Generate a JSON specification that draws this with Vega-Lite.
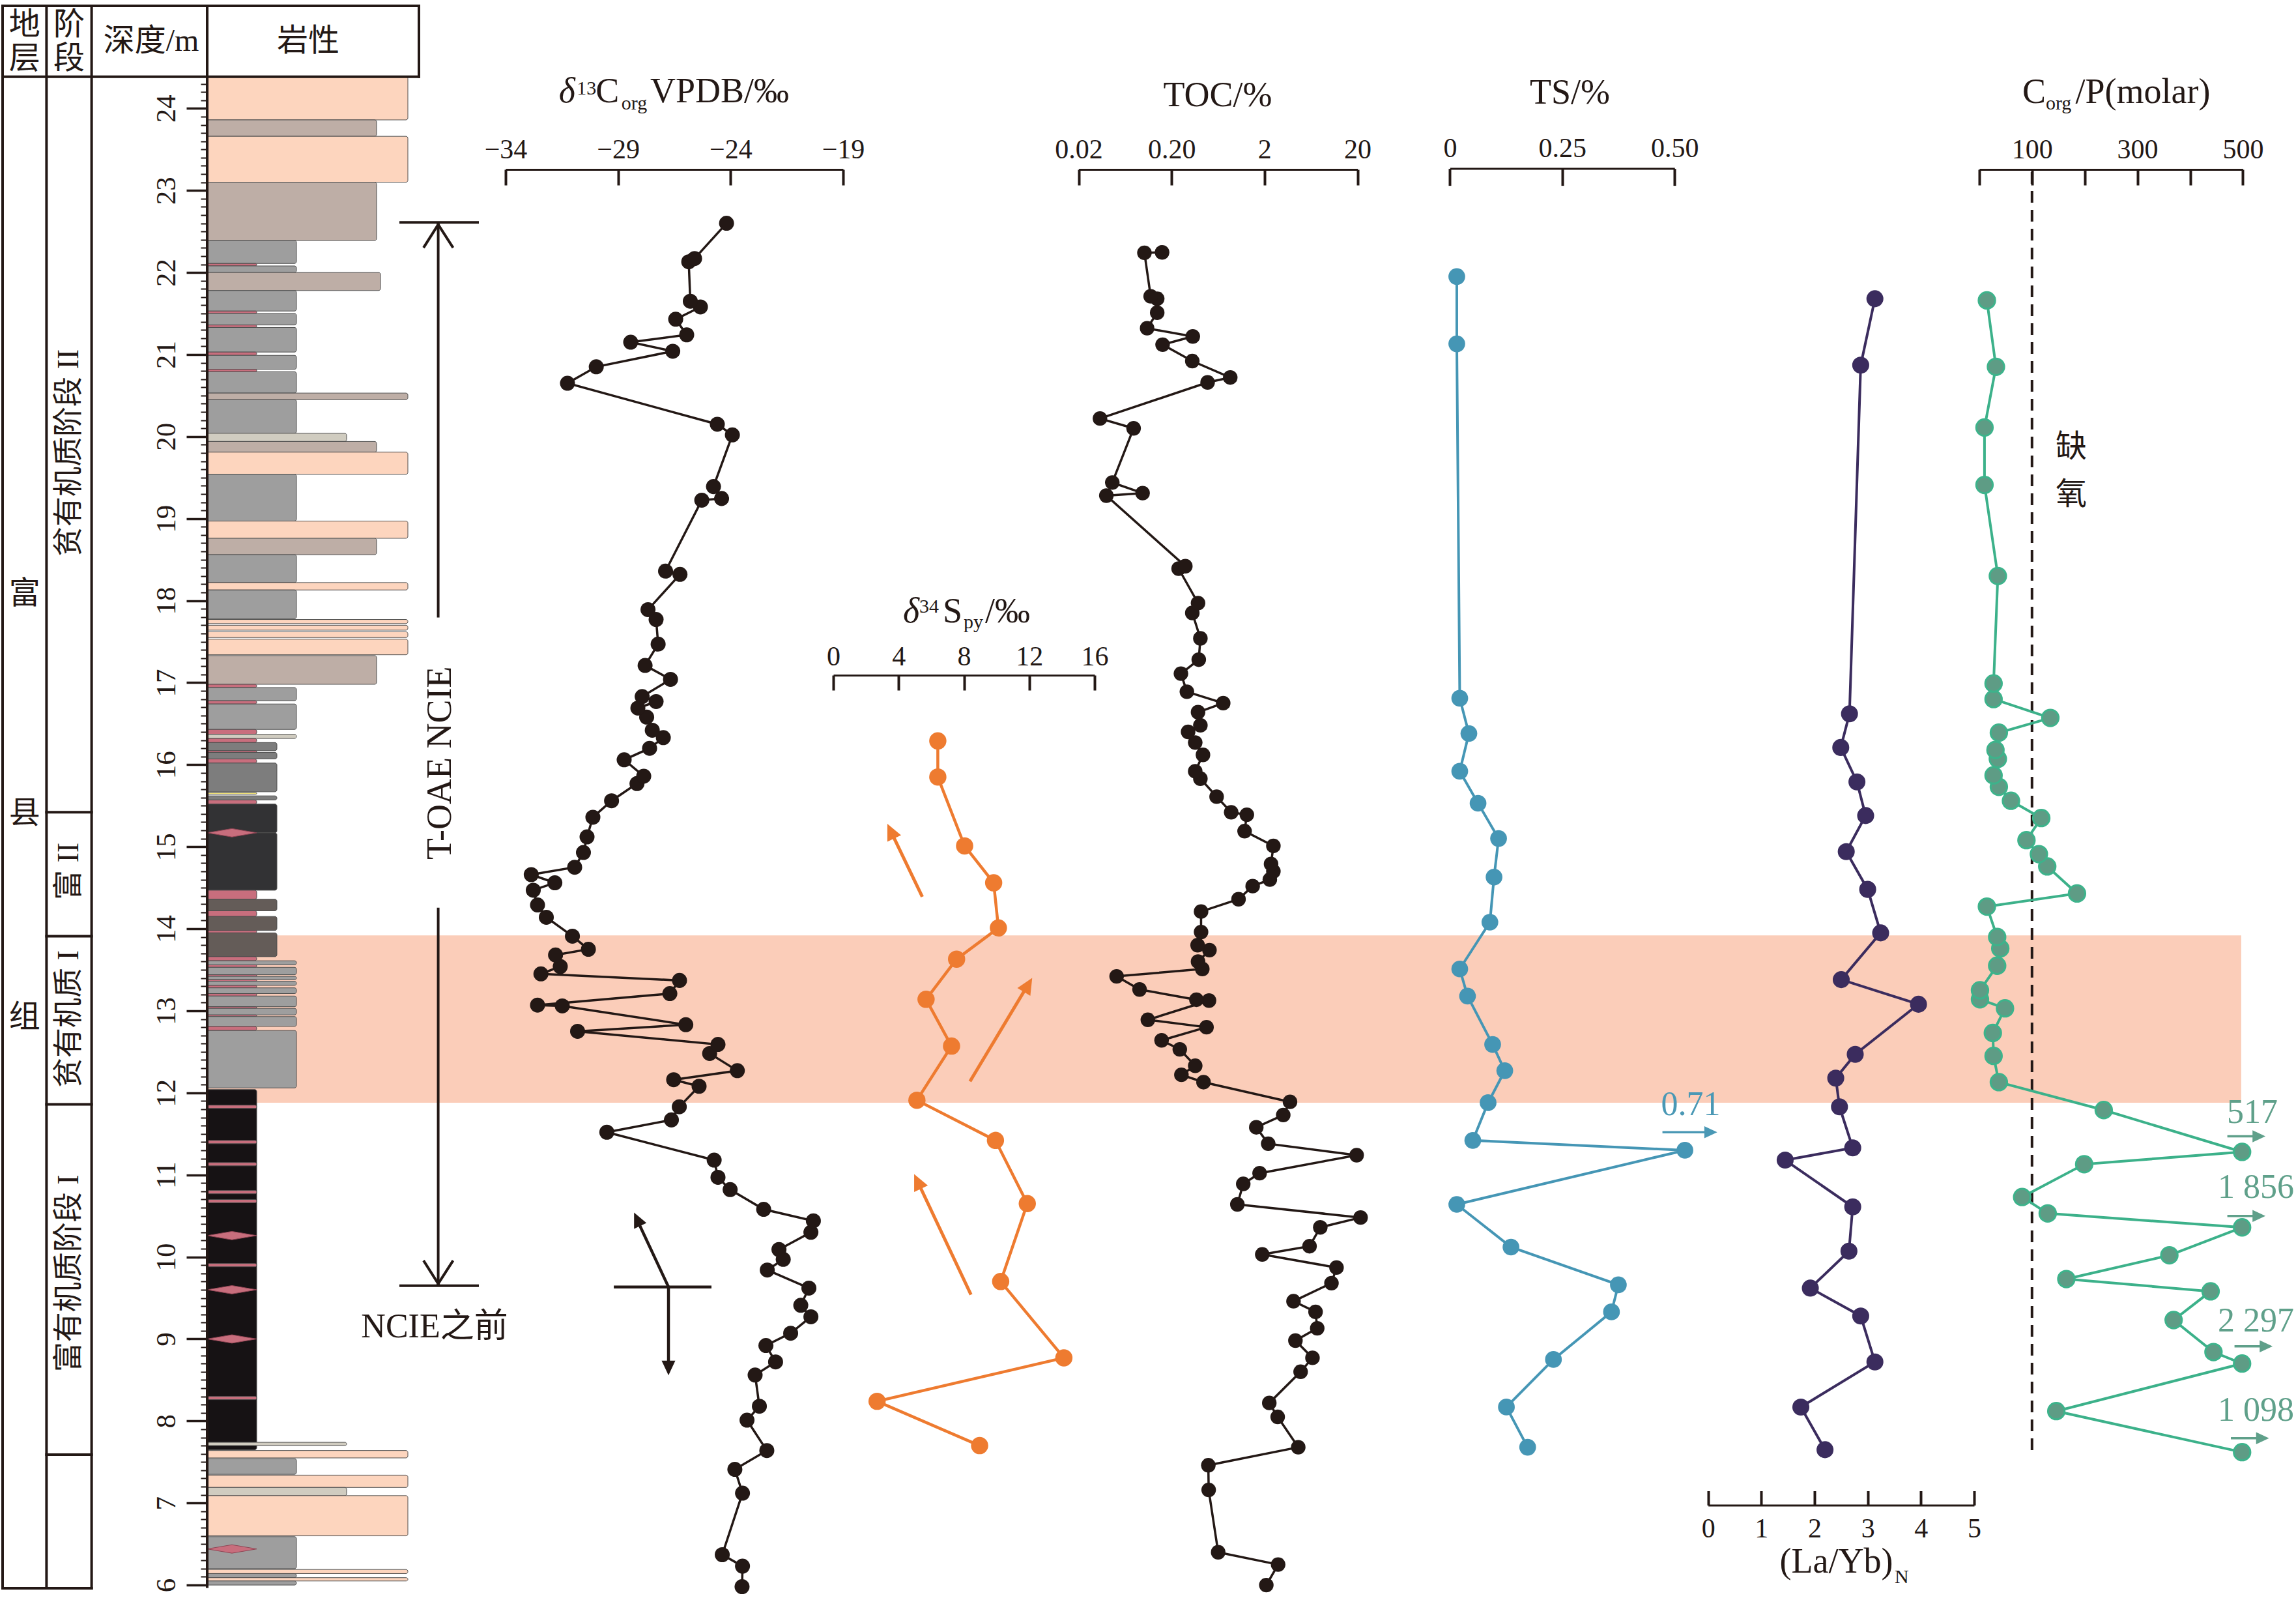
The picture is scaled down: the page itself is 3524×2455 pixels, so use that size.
{
"$schema": "https://vega.github.io/schema/vega-lite/v6.json",
"width": 3524,
"height": 2455,
"autosize": {"type": "none"},
"padding": 0,
"background": "#ffffff",
"config": {
  "view": {"stroke": null},
  "axis": {"grid": false, "labelFont": "Liberation Serif", "labelFontSize": 42, "labelColor": "#231815", "tickColor": "#231815", "domainColor": "#231815", "domainWidth": 3, "tickWidth": 4, "labelFlush": false, "labelOverlap": false, "labelBound": false}
},
"datasets": {
  "c13": [
    {"depth":22.6,"v":-24.18},{"depth":22.17,"v":-25.6},{"depth":22.13,"v":-25.86},{"depth":21.65,"v":-25.79},{"depth":21.58,"v":-25.34},{"depth":21.43,"v":-26.44},{"depth":21.24,"v":-25.95},{"depth":21.15,"v":-28.44},{"depth":21.04,"v":-26.57},{"depth":20.85,"v":-29.97},{"depth":20.65,"v":-31.25},{"depth":20.15,"v":-24.59},{"depth":20.02,"v":-23.92},{"depth":19.39,"v":-24.76},{"depth":19.245,"v":-24.4},{"depth":19.225,"v":-25.28},{"depth":18.36,"v":-26.89},{"depth":18.32,"v":-26.25},{"depth":17.89,"v":-27.67},{"depth":17.77,"v":-27.31},{"depth":17.47,"v":-27.22},{"depth":17.21,"v":-27.8},{"depth":17.04,"v":-26.67},{"depth":16.83,"v":-27.93},{"depth":16.77,"v":-27.31},{"depth":16.69,"v":-28.12},{"depth":16.58,"v":-27.73},{"depth":16.42,"v":-27.48},{"depth":16.33,"v":-26.99},{"depth":16.2,"v":-27.6},{"depth":16.06,"v":-28.73},{"depth":15.86,"v":-27.86},{"depth":15.77,"v":-28.16},{"depth":15.56,"v":-29.29},{"depth":15.36,"v":-30.12},{"depth":15.12,"v":-30.38},{"depth":14.93,"v":-30.54},{"depth":14.75,"v":-30.93},{"depth":14.66,"v":-32.86},{"depth":14.56,"v":-31.81},{"depth":14.47,"v":-32.77},{"depth":14.29,"v":-32.58},{"depth":14.14,"v":-32.19},{"depth":13.91,"v":-31.03},{"depth":13.75,"v":-30.32},{"depth":13.68,"v":-31.78},{"depth":13.54,"v":-31.57},{"depth":13.45,"v":-32.43},{"depth":13.37,"v":-26.27},{"depth":13.21,"v":-26.7},{"depth":13.07,"v":-32.58},{"depth":13.06,"v":-31.48},{"depth":12.83,"v":-25.99},{"depth":12.75,"v":-30.8},{"depth":12.59,"v":-24.56},{"depth":12.48,"v":-24.93},{"depth":12.27,"v":-23.7},{"depth":12.16,"v":-26.53},{"depth":12.08,"v":-25.4},{"depth":11.83,"v":-26.28},{"depth":11.67,"v":-26.63},{"depth":11.52,"v":-29.5},{"depth":11.18,"v":-24.73},{"depth":10.97,"v":-24.56},{"depth":10.82,"v":-24.02},{"depth":10.58,"v":-22.53},{"depth":10.44,"v":-20.32},{"depth":10.3,"v":-20.43},{"depth":10.09,"v":-21.85},{"depth":9.97,"v":-21.66},{"depth":9.84,"v":-22.37},{"depth":9.62,"v":-20.52},{"depth":9.41,"v":-20.88},{"depth":9.27,"v":-20.43},{"depth":9.07,"v":-21.33},{"depth":8.92,"v":-22.43},{"depth":8.72,"v":-22.0},{"depth":8.56,"v":-22.91},{"depth":8.18,"v":-22.72},{"depth":8.01,"v":-23.27},{"depth":7.64,"v":-22.39},{"depth":7.41,"v":-23.81},{"depth":7.12,"v":-23.47},{"depth":6.37,"v":-24.37},{"depth":6.23,"v":-23.47},{"depth":5.98,"v":-23.49}
  ],
  "s34": [
    {"depth":16.29,"v":6.4},{"depth":15.85,"v":6.4},{"depth":15.01,"v":8.04},{"depth":14.56,"v":9.82},{"depth":14.01,"v":10.11},{"depth":13.63,"v":7.55},{"depth":13.14,"v":5.68},{"depth":12.57,"v":7.24},{"depth":11.91,"v":5.12},{"depth":11.42,"v":9.93},{"depth":10.65,"v":11.88},{"depth":9.7,"v":10.25},{"depth":8.77,"v":14.12},{"depth":8.24,"v":2.68},{"depth":7.7,"v":8.96}
  ],
  "toc": [
    {"depth":22.245,"v":0.158},{"depth":22.24,"v":0.102},{"depth":21.71,"v":0.119},{"depth":21.68,"v":0.14},{"depth":21.51,"v":0.14},{"depth":21.32,"v":0.109},{"depth":21.22,"v":0.338},{"depth":21.12,"v":0.16},{"depth":20.92,"v":0.334},{"depth":20.72,"v":0.855},{"depth":20.66,"v":0.488},{"depth":20.22,"v":0.0339},{"depth":20.1,"v":0.078},{"depth":19.44,"v":0.046},{"depth":19.31,"v":0.0975},{"depth":19.28,"v":0.0397},{"depth":18.42,"v":0.281},{"depth":18.39,"v":0.238},{"depth":17.97,"v":0.385},{"depth":17.85,"v":0.334},{"depth":17.54,"v":0.408},{"depth":17.28,"v":0.392},{"depth":17.11,"v":0.252},{"depth":16.89,"v":0.292},{"depth":16.75,"v":0.718},{"depth":16.64,"v":0.385},{"depth":16.48,"v":0.408},{"depth":16.4,"v":0.301},{"depth":16.27,"v":0.359},{"depth":16.12,"v":0.435},{"depth":15.92,"v":0.359},{"depth":15.83,"v":0.408},{"depth":15.61,"v":0.61},{"depth":15.42,"v":0.875},{"depth":15.39,"v":1.29},{"depth":15.19,"v":1.22},{"depth":15.01,"v":2.49},{"depth":14.79,"v":2.35},{"depth":14.7,"v":2.49},{"depth":14.6,"v":2.28},{"depth":14.52,"v":1.49},{"depth":14.36,"v":1.05},{"depth":14.21,"v":0.415},{"depth":13.96,"v":0.415},{"depth":13.8,"v":0.381},{"depth":13.74,"v":0.511},{"depth":13.6,"v":0.385},{"depth":13.51,"v":0.428},{"depth":13.42,"v":0.0512},{"depth":13.26,"v":0.0904},{"depth":13.135,"v":0.37},{"depth":13.125,"v":0.505},{"depth":12.89,"v":0.111},{"depth":12.8,"v":0.475},{"depth":12.64,"v":0.156},{"depth":12.53,"v":0.245},{"depth":12.33,"v":0.359},{"depth":12.22,"v":0.255},{"depth":12.13,"v":0.441},{"depth":11.89,"v":3.76},{"depth":11.73,"v":3.18},{"depth":11.58,"v":1.63},{"depth":11.38,"v":2.19},{"depth":11.24,"v":19.6},{"depth":11.02,"v":1.77},{"depth":10.89,"v":1.18},{"depth":10.64,"v":1.02},{"depth":10.48,"v":21.6},{"depth":10.36,"v":7.96},{"depth":10.13,"v":6.1},{"depth":10.03,"v":1.89},{"depth":9.87,"v":11.9},{"depth":9.68,"v":10.5},{"depth":9.46,"v":4.1},{"depth":9.33,"v":7.08},{"depth":9.13,"v":7.38},{"depth":8.98,"v":4.3},{"depth":8.77,"v":6.56},{"depth":8.6,"v":4.89},{"depth":8.22,"v":2.25},{"depth":8.05,"v":2.77},{"depth":7.68,"v":4.61},{"depth":7.46,"v":0.497},{"depth":7.16,"v":0.501},{"depth":6.4,"v":0.634},{"depth":6.25,"v":2.8},{"depth":6.0,"v":2.09}
  ],
  "ts": [
    {"depth":21.95,"v":0.0153},{"depth":21.13,"v":0.0153},{"depth":16.81,"v":0.0219},{"depth":16.38,"v":0.0422},{"depth":15.92,"v":0.0219},{"depth":15.53,"v":0.0626},{"depth":15.1,"v":0.1083},{"depth":14.63,"v":0.0982},{"depth":14.08,"v":0.089},{"depth":13.51,"v":0.0219},{"depth":13.18,"v":0.0392},{"depth":12.59,"v":0.0951},{"depth":12.27,"v":0.1221},{"depth":11.88,"v":0.085},{"depth":11.42,"v":0.0509},{"depth":11.3,"v":0.523},{"depth":10.64,"v":0.0153},{"depth":10.12,"v":0.1359},{"depth":9.66,"v":0.3749},{"depth":9.33,"v":0.3596},{"depth":8.75,"v":0.2304},{"depth":8.17,"v":0.1257},{"depth":7.68,"v":0.173}
  ],
  "layb": [
    {"depth":21.68,"v":3.135},{"depth":20.87,"v":2.868},{"depth":16.62,"v":2.657},{"depth":16.21,"v":2.493},{"depth":15.79,"v":2.797},{"depth":15.38,"v":2.961},{"depth":14.94,"v":2.596},{"depth":14.48,"v":2.999},{"depth":13.95,"v":3.243},{"depth":13.38,"v":2.502},{"depth":13.08,"v":3.954},{"depth":12.47,"v":2.765},{"depth":12.18,"v":2.399},{"depth":11.83,"v":2.469},{"depth":11.33,"v":2.718},{"depth":11.18,"v":1.448},{"depth":10.61,"v":2.718},{"depth":10.07,"v":2.647},{"depth":9.62,"v":1.921},{"depth":9.28,"v":2.868},{"depth":8.72,"v":3.135},{"depth":8.17,"v":1.743},{"depth":7.65,"v":2.197}
  ],
  "cp": [
    {"depth":21.66,"v":14.4},{"depth":20.85,"v":31.6},{"depth":20.11,"v":9.9},{"depth":19.41,"v":9.9},{"depth":18.3,"v":35.2},{"depth":16.99,"v":27.1},{"depth":16.8,"v":27.1},{"depth":16.57,"v":134.8},{"depth":16.39,"v":37.1},{"depth":16.18,"v":30.7},{"depth":16.07,"v":35.2},{"depth":15.87,"v":27.1},{"depth":15.73,"v":37.1},{"depth":15.56,"v":60.1},{"depth":15.35,"v":117.6},{"depth":15.08,"v":89.5},{"depth":14.91,"v":113.1},{"depth":14.76,"v":128.9},{"depth":14.43,"v":185.4},{"depth":14.27,"v":14.4},{"depth":13.9,"v":33.9},{"depth":13.76,"v":39.8},{"depth":13.55,"v":33.9},{"depth":13.25,"v":1.3},{"depth":13.14,"v":1.3},{"depth":13.03,"v":48.8},{"depth":12.73,"v":25.7},{"depth":12.45,"v":27.1},{"depth":12.13,"v":37.1},{"depth":11.79,"v":236.1},{"depth":11.28,"v":498.6},{"depth":11.13,"v":199.0},{"depth":10.73,"v":81.3},{"depth":10.53,"v":129.8},{"depth":10.36,"v":498.6},{"depth":10.02,"v":360.6},{"depth":9.73,"v":165.1},{"depth":9.58,"v":438.9},{"depth":9.23,"v":368.7},{"depth":8.84,"v":444.3},{"depth":8.7,"v":498.6},{"depth":8.12,"v":146.1},{"depth":7.62,"v":498.6}
  ],
  "band": [{"depth":13.92,"depth2":11.88,"x":0,"x2":960.6}],
  "litho": [
    {"depth":24.387,"depth2":23.86,"lith":"peach","grain":94.77},
    {"depth":23.86,"depth2":23.66,"lith":"brown","grain":80.0},
    {"depth":23.66,"depth2":23.1,"lith":"peach","grain":94.77},
    {"depth":23.1,"depth2":22.39,"lith":"brown","grain":80.0},
    {"depth":22.39,"depth2":22.11,"lith":"grey","grain":42.15},
    {"depth":22.11,"depth2":22.08,"lith":"pink","grain":23.38},
    {"depth":22.08,"depth2":22.0,"lith":"grey","grain":42.15},
    {"depth":22.0,"depth2":21.78,"lith":"brown","grain":81.85},
    {"depth":21.78,"depth2":21.53,"lith":"grey","grain":42.15},
    {"depth":21.53,"depth2":21.5,"lith":"pink","grain":23.38},
    {"depth":21.5,"depth2":21.36,"lith":"grey","grain":42.15},
    {"depth":21.36,"depth2":21.33,"lith":"pink","grain":23.38},
    {"depth":21.33,"depth2":21.03,"lith":"grey","grain":42.15},
    {"depth":21.03,"depth2":20.99,"lith":"pink","grain":23.38},
    {"depth":20.99,"depth2":20.82,"lith":"grey","grain":42.15},
    {"depth":20.82,"depth2":20.79,"lith":"pink","grain":23.38},
    {"depth":20.79,"depth2":20.53,"lith":"grey","grain":42.15},
    {"depth":20.53,"depth2":20.45,"lith":"brown","grain":94.77},
    {"depth":20.45,"depth2":20.04,"lith":"grey","grain":42.15},
    {"depth":20.04,"depth2":19.94,"lith":"lightgrey","grain":65.85},
    {"depth":19.94,"depth2":19.81,"lith":"brown","grain":80.0},
    {"depth":19.81,"depth2":19.54,"lith":"peach","grain":94.77},
    {"depth":19.54,"depth2":18.97,"lith":"grey","grain":42.15},
    {"depth":18.97,"depth2":18.76,"lith":"peach","grain":94.77},
    {"depth":18.76,"depth2":18.56,"lith":"brown","grain":80.0},
    {"depth":18.56,"depth2":18.22,"lith":"grey","grain":42.15},
    {"depth":18.22,"depth2":18.13,"lith":"peach","grain":94.77},
    {"depth":18.13,"depth2":17.78,"lith":"grey","grain":42.15},
    {"depth":17.77,"depth2":17.72,"lith":"peach","grain":94.77},
    {"depth":17.7,"depth2":17.64,"lith":"peach","grain":94.77},
    {"depth":17.62,"depth2":17.55,"lith":"peach","grain":94.77},
    {"depth":17.53,"depth2":17.34,"lith":"peach","grain":94.77},
    {"depth":17.33,"depth2":16.98,"lith":"brown","grain":80.0},
    {"depth":16.98,"depth2":16.94,"lith":"pink","grain":23.38},
    {"depth":16.94,"depth2":16.78,"lith":"grey","grain":42.15},
    {"depth":16.78,"depth2":16.74,"lith":"pink","grain":23.38},
    {"depth":16.74,"depth2":16.43,"lith":"grey","grain":42.15},
    {"depth":16.43,"depth2":16.37,"lith":"pink","grain":23.38},
    {"depth":16.37,"depth2":16.32,"lith":"lightgrey","grain":42.15},
    {"depth":16.32,"depth2":16.27,"lith":"pink","grain":23.38},
    {"depth":16.27,"depth2":16.17,"lith":"mgrey","grain":32.92},
    {"depth":16.17,"depth2":16.15,"lith":"pink","grain":23.38},
    {"depth":16.15,"depth2":16.07,"lith":"mgrey","grain":32.92},
    {"depth":16.07,"depth2":16.02,"lith":"pink","grain":23.38},
    {"depth":16.02,"depth2":15.67,"lith":"mgrey","grain":32.92},
    {"depth":15.66,"depth2":15.64,"lith":"yellow","grain":23.38},
    {"depth":15.62,"depth2":15.57,"lith":"mgrey","grain":32.92},
    {"depth":15.57,"depth2":15.52,"lith":"pink","grain":23.38},
    {"depth":15.52,"depth2":15.17,"lith":"vdark","grain":32.92},
    {"depth":15.17,"depth2":14.47,"lith":"vdark","grain":32.92},
    {"depth":14.47,"depth2":14.36,"lith":"pink","grain":23.38},
    {"depth":14.36,"depth2":14.22,"lith":"dbrown","grain":32.92},
    {"depth":14.22,"depth2":14.15,"lith":"pink","grain":23.38},
    {"depth":14.15,"depth2":13.98,"lith":"dbrown","grain":32.92},
    {"depth":13.98,"depth2":13.95,"lith":"pink","grain":23.38},
    {"depth":13.95,"depth2":13.66,"lith":"dbrown","grain":32.92},
    {"depth":13.66,"depth2":13.61,"lith":"pink","grain":23.38},
    {"depth":13.61,"depth2":13.56,"lith":"grey","grain":42.15},
    {"depth":13.56,"depth2":13.53,"lith":"pink","grain":23.38},
    {"depth":13.53,"depth2":13.44,"lith":"grey","grain":42.15},
    {"depth":13.44,"depth2":13.42,"lith":"pink","grain":23.38},
    {"depth":13.42,"depth2":13.38,"lith":"grey","grain":42.15},
    {"depth":13.38,"depth2":13.36,"lith":"pink","grain":23.38},
    {"depth":13.36,"depth2":13.31,"lith":"grey","grain":42.15},
    {"depth":13.31,"depth2":13.28,"lith":"pink","grain":23.38},
    {"depth":13.28,"depth2":13.21,"lith":"grey","grain":42.15},
    {"depth":13.21,"depth2":13.18,"lith":"pink","grain":23.38},
    {"depth":13.18,"depth2":13.05,"lith":"grey","grain":42.15},
    {"depth":13.05,"depth2":13.03,"lith":"pink","grain":23.38},
    {"depth":13.03,"depth2":12.95,"lith":"grey","grain":42.15},
    {"depth":12.95,"depth2":12.93,"lith":"pink","grain":23.38},
    {"depth":12.93,"depth2":12.81,"lith":"grey","grain":42.15},
    {"depth":12.81,"depth2":12.76,"lith":"pink","grain":23.38},
    {"depth":12.76,"depth2":12.06,"lith":"grey","grain":42.15},
    {"depth":12.04,"depth2":7.65,"lith":"black","grain":23.38},
    {"depth":11.85,"depth2":11.81,"lith":"pink","grain":23.38},
    {"depth":11.42,"depth2":11.38,"lith":"pink","grain":23.38},
    {"depth":11.15,"depth2":11.11,"lith":"pink","grain":23.38},
    {"depth":10.81,"depth2":10.77,"lith":"pink","grain":23.38},
    {"depth":10.7,"depth2":10.66,"lith":"pink","grain":23.38},
    {"depth":9.92,"depth2":9.88,"lith":"pink","grain":23.38},
    {"depth":8.3,"depth2":8.26,"lith":"pink","grain":23.38},
    {"depth":7.74,"depth2":7.7,"lith":"lightgrey","grain":65.85},
    {"depth":7.64,"depth2":7.55,"lith":"peach","grain":94.77},
    {"depth":7.54,"depth2":7.35,"lith":"grey","grain":42.15},
    {"depth":7.34,"depth2":7.19,"lith":"peach","grain":94.77},
    {"depth":7.19,"depth2":7.09,"lith":"lightgrey","grain":65.85},
    {"depth":7.09,"depth2":6.6,"lith":"peach","grain":94.77},
    {"depth":6.59,"depth2":6.2,"lith":"grey","grain":42.15},
    {"depth":6.19,"depth2":6.14,"lith":"peach","grain":94.77},
    {"depth":6.14,"depth2":6.09,"lith":"grey","grain":42.15},
    {"depth":6.09,"depth2":6.05,"lith":"peach","grain":94.77},
    {"depth":6.05,"depth2":6.0,"lith":"grey","grain":42.15}
  ],
  "lens": [{"depth":15.17,"grain":23.38},{"depth":10.26,"grain":23.38},{"depth":9.6,"grain":23.38},{"depth":9.0,"grain":23.38},{"depth":6.44,"grain":23.38}],
  "rules": [
    {"p":"tx","x":-96.62,"x2":100,"depth":25.25,"depth2":25.25},
    {"p":"tx","x":-96.62,"x2":100,"depth":24.387,"depth2":24.387},
    {"p":"tx","x":-96.62,"x2":-96.62,"depth":25.25,"depth2":5.96},
    {"p":"tx","x":-75.88,"x2":-75.88,"depth":25.25,"depth2":5.96},
    {"p":"tx","x":-54.58,"x2":-54.58,"depth":25.25,"depth2":5.96},
    {"p":"tx","x":0,"x2":0,"depth":25.25,"depth2":5.98},
    {"p":"tx","x":100,"x2":100,"depth":25.25,"depth2":24.387},
    {"p":"tx","x":-96.62,"x2":-54.58,"depth":5.96,"depth2":5.96},
    {"p":"tx","x":-75.88,"x2":-54.58,"depth":15.42,"depth2":15.42},
    {"p":"tx","x":-75.88,"x2":-54.58,"depth":13.91,"depth2":13.91},
    {"p":"tx","x":-75.88,"x2":-54.58,"depth":11.86,"depth2":11.86},
    {"p":"tx","x":-75.88,"x2":-54.58,"depth":7.59,"depth2":7.59},
    {"p":"oae","x":109.1,"x2":109.1,"depth":22.58,"depth2":17.81},
    {"p":"oae","x":109.1,"x2":109.1,"depth":14.24,"depth2":9.674},
    {"p":"oae","x":91.38,"x2":127.69,"depth":22.61,"depth2":22.61},
    {"p":"oae","x":91.38,"x2":127.69,"depth":9.65,"depth2":9.65},
    {"p":"oae","x":102.5,"x2":109.1,"depth":22.315,"depth2":22.584},
    {"p":"oae","x":115.8,"x2":109.1,"depth":22.315,"depth2":22.584},
    {"p":"oae","x":102.5,"x2":109.1,"depth":9.942,"depth2":9.674},
    {"p":"oae","x":115.8,"x2":109.1,"depth":9.942,"depth2":9.674},
    {"p":"c13","x":-29.19,"x2":-24.85,"depth":9.634,"depth2":9.634},
    {"p":"c13","x":-26.76,"x2":-26.76,"depth":9.634,"depth2":8.65},
    {"p":"c13","x":-26.76,"x2":-28.15,"depth":9.634,"depth2":10.45},
    {"p":"s34","x":5.45,"x2":3.52,"depth":14.39,"depth2":15.19},
    {"p":"s34","x":8.37,"x2":11.93,"depth":12.14,"depth2":13.32},
    {"p":"s34","x":8.43,"x2":5.16,"depth":9.54,"depth2":10.92},
    {"p":"ts","x":0.473,"x2":0.58,"depth":11.52,"depth2":11.52},
    {"p":"cp","x":470.6,"x2":530,"depth":11.47,"depth2":11.47},
    {"p":"cp","x":470.6,"x2":530,"depth":10.5,"depth2":10.5},
    {"p":"cp","x":484.2,"x2":544,"depth":8.91,"depth2":8.91},
    {"p":"cp","x":477.3,"x2":537,"depth":7.79,"depth2":7.79},
    {"p":"cpdash","x":100,"x2":100,"depth":23.224,"depth2":7.61}
  ],
  "heads": [
    {"p":"c13","dir":"down","x":-26.76,"depth":8.556},
    {"p":"c13","dir":"ul","x":-28.29,"depth":10.54},
    {"p":"s34","dir":"ul","x":3.31,"depth":15.28},
    {"p":"s34","dir":"ul","x":4.95,"depth":11.01},
    {"p":"s34","dir":"ur","x":12.18,"depth":13.4},
    {"p":"ts","dir":"right","x":0.595,"depth":11.52},
    {"p":"cp","dir":"right","x":542.9,"depth":11.47},
    {"p":"cp","dir":"right","x":542.9,"depth":10.5},
    {"p":"cp","dir":"right","x":556.5,"depth":8.91},
    {"p":"cp","dir":"right","x":549.7,"depth":7.79}
  ],
  "labels": [
    {"p":"head","x":-86.25,"depth":25.01,"label":"地"},
    {"p":"head","x":-86.25,"depth":24.6,"label":"层"},
    {"p":"head","x":-65.23,"depth":25.01,"label":"阶"},
    {"p":"head","x":-65.23,"depth":24.6,"label":"段"},
    {"p":"head","x":-26.46,"depth":24.815,"label":"深度/m"},
    {"p":"head","x":47.69,"depth":24.815,"label":"岩性"},
    {"p":"head","x":-86.25,"depth":18.08,"label":"富"},
    {"p":"head","x":-86.25,"depth":15.4,"label":"县"},
    {"p":"head","x":-86.25,"depth":12.91,"label":"组"},
    {"p":"stage","x":-65.23,"depth":19.8,"label":"贫有机质阶段 II"},
    {"p":"stage","x":-65.23,"depth":14.7,"label":"富 II"},
    {"p":"stage","x":-65.23,"depth":12.9,"label":"贫有机质 I"},
    {"p":"stage","x":-65.23,"depth":9.8,"label":"富有机质阶段 I"},
    {"p":"oae","x":110.15,"depth":16.02,"label":"T-OAE  NCIE"},
    {"p":"ncie","x":107.38,"depth":9.02,"label":"NCIE之前"}
  ],
  "titles": [
    {"p":"c13","role":"it","x":-31.63,"depth":24.071,"label":"δ"},
    {"p":"c13","role":"sc","x":-30.84,"depth":24.17,"label":"13"},
    {"p":"c13","role":"main","x":-30.0,"depth":24.071,"label":"C"},
    {"p":"c13","role":"sc","x":-28.85,"depth":23.99,"label":"org"},
    {"p":"c13","role":"main","x":-27.57,"depth":24.071,"label":"VPDB/‰"},
    {"p":"s34","role":"it","x":4.27,"depth":17.733,"label":"δ"},
    {"p":"s34","role":"sc","x":5.27,"depth":17.85,"label":"34"},
    {"p":"s34","role":"main","x":6.7,"depth":17.733,"label":"S"},
    {"p":"s34","role":"sc","x":7.98,"depth":17.66,"label":"py"},
    {"p":"s34","role":"main","x":9.3,"depth":17.733,"label":"/‰"},
    {"p":"toc","role":"center","x":0.626,"depth":24.024,"label":"TOC/%"},
    {"p":"ts","role":"center","x":0.267,"depth":24.058,"label":"TS/%"},
    {"p":"cp","role":"main","x":81.7,"depth":24.07,"label":"C"},
    {"p":"cp","role":"sc","x":126.1,"depth":23.99,"label":"org"},
    {"p":"cp","role":"main","x":182.4,"depth":24.07,"label":"/P(molar)"},
    {"p":"layb","role":"main","x":1.345,"depth":6.15,"label":"(La/Yb)"},
    {"p":"layb","role":"sc","x":3.506,"depth":6.024,"label":"N"}
  ],
  "ann": [
    {"p":"ts","x":0.536,"depth":11.73,"label":"0.71"},
    {"p":"cp","x":518,"depth":11.63,"label":"517"},
    {"p":"cp","x":524.8,"depth":10.72,"label":"1 856"},
    {"p":"cp","x":524.8,"depth":9.09,"label":"2 297"},
    {"p":"cp","x":524.8,"depth":8.0,"label":"1 098"},
    {"p":"cpcjk","x":174.4,"depth":19.86,"label":"缺"},
    {"p":"cpcjk","x":174.4,"depth":19.28,"label":"氧"}
  ]
},
"resolve": {"scale": {"x": "independent"}, "axis": {"x": "independent", "y": "independent"}},
"layer": [
  {"data": {"name": "band"}, "mark": {"type": "rect", "color": "#FBCDB9"},
   "encoding": {
     "y": {"field": "depth", "type": "quantitative", "scale": {"domain": [5.8576, 25.2818], "nice": false, "zero": false}, "axis": null},
     "y2": {"field": "depth2"},
     "x": {"field": "x", "type": "quantitative", "scale": {"domain": [0,100], "range": [318,643], "nice": false, "zero": false}, "axis": null},
     "x2": {"field": "x2"}}},
  {"data": {"name": "litho"}, "mark": {"type": "bar", "orient": "horizontal", "stroke": "#4d4d4d", "strokeWidth": 1, "cornerRadiusEnd": 3},
   "encoding": {
     "y": {"field": "depth", "type": "quantitative", "scale": {"domain": [5.8576, 25.2818], "nice": false, "zero": false}, "axis": null},
     "y2": {"field": "depth2"},
     "x": {"field": "grain", "type": "quantitative", "stack": null, "scale": {"domain": [0,100], "range": [318,643], "nice": false, "zero": false}, "axis": null},
     "color": {"field": "lith", "type": "nominal", "legend": null, "scale": {"domain": ["peach","brown","lightgrey","grey","mgrey","vdark","dbrown","black","pink","yellow"], "range": ["#FDD5BE","#BEAEA6","#D0CCC0","#9E9E9E","#7D7D7D","#323234","#645C58","#161214","#C86E7D","#F0E178"]}}}},
  {"data": {"name": "lens"}, "mark": {"type": "point", "shape": "M-2,0L-1,-0.17L0,0L-1,0.17Z", "filled": true, "size": 5776, "color": "#C86E7D", "stroke": "#8E4453", "strokeWidth": 1, "opacity": 1},
   "encoding": {
     "y": {"field": "depth", "type": "quantitative", "scale": {"domain": [5.8576, 25.2818], "nice": false, "zero": false},
       "axis": {"orient": "left", "offset": -318, "title": null, "domain": false, "labels": false, "tickSize": 10, "tickWidth": 2,
         "values": [6.1,6.2,6.3,6.4,6.5,6.6,6.7,6.8,6.9,7.1,7.2,7.3,7.4,7.5,7.6,7.7,7.8,7.9,8.1,8.2,8.3,8.4,8.5,8.6,8.7,8.8,8.9,9.1,9.2,9.3,9.4,9.5,9.6,9.7,9.8,9.9,10.1,10.2,10.3,10.4,10.5,10.6,10.7,10.8,10.9,11.1,11.2,11.3,11.4,11.5,11.6,11.7,11.8,11.9,12.1,12.2,12.3,12.4,12.5,12.6,12.7,12.8,12.9,13.1,13.2,13.3,13.4,13.5,13.6,13.7,13.8,13.9,14.1,14.2,14.3,14.4,14.5,14.6,14.7,14.8,14.9,15.1,15.2,15.3,15.4,15.5,15.6,15.7,15.8,15.9,16.1,16.2,16.3,16.4,16.5,16.6,16.7,16.8,16.9,17.1,17.2,17.3,17.4,17.5,17.6,17.7,17.8,17.9,18.1,18.2,18.3,18.4,18.5,18.6,18.7,18.8,18.9,19.1,19.2,19.3,19.4,19.5,19.6,19.7,19.8,19.9,20.1,20.2,20.3,20.4,20.5,20.6,20.7,20.8,20.9,21.1,21.2,21.3,21.4,21.5,21.6,21.7,21.8,21.9,22.1,22.2,22.3,22.4,22.5,22.6,22.7,22.8,22.9,23.1,23.2,23.3,23.4,23.5,23.6,23.7,23.8,23.9,24.1,24.2,24.3]}},
     "x": {"field": "grain", "type": "quantitative", "scale": {"domain": [0,100], "range": [318,643], "nice": false, "zero": false}, "axis": null}}},
  {"data": {"name": "rules"}, "transform": [{"filter": "datum.p == 'tx' || datum.p == 'oae'"}], "mark": {"type": "rule", "color": "#231815", "strokeWidth": 4, "strokeCap": "square"},
   "encoding": {
     "y": {"field": "depth", "type": "quantitative", "scale": {"domain": [5.8576, 25.2818], "nice": false, "zero": false},
       "axis": {"orient": "left", "offset": -318, "title": null, "domain": false, "values": [6,7,8,9,10,11,12,13,14,15,16,17,18,19,20,21,22,23,24], "format": "d", "tickSize": 32, "tickWidth": 3.5,
         "labelAngle": 270, "labelAlign": "center", "labelBaseline": "alphabetic", "labelPadding": 18, "labelFontSize": 43}},
     "y2": {"field": "depth2"},
     "x": {"field": "x", "type": "quantitative", "scale": {"domain": [0,100], "range": [318,643], "nice": false, "zero": false}, "axis": null},
     "x2": {"field": "x2"}}},
  {"data": {"name": "labels"}, "transform": [{"filter": "datum.p == 'head'"}], "mark": {"type": "text", "font": "Liberation Serif, Noto Sans CJK SC", "fontSize": 48, "align": "center", "baseline": "middle", "color": "#231815"},
   "encoding": {
     "y": {"field": "depth", "type": "quantitative", "scale": {"domain": [5.8576, 25.2818], "nice": false, "zero": false}, "axis": null},
     "x": {"field": "x", "type": "quantitative", "scale": {"domain": [0,100], "range": [318,643], "nice": false, "zero": false}, "axis": null}, "text": {"field": "label"}}},
  {"data": {"name": "labels"}, "transform": [{"filter": "datum.p == 'stage'"}], "mark": {"type": "text", "font": "Liberation Serif, Noto Sans CJK SC", "fontSize": 46, "angle": 270, "align": "center", "baseline": "middle", "color": "#231815"},
   "encoding": {
     "y": {"field": "depth", "type": "quantitative", "scale": {"domain": [5.8576, 25.2818], "nice": false, "zero": false}, "axis": null},
     "x": {"field": "x", "type": "quantitative", "scale": {"domain": [0,100], "range": [318,643], "nice": false, "zero": false}, "axis": null}, "text": {"field": "label"}}},
  {"data": {"name": "labels"}, "transform": [{"filter": "datum.p == 'oae'"}], "mark": {"type": "text", "font": "Liberation Serif", "fontSize": 54, "angle": 270, "align": "center", "baseline": "middle", "color": "#231815"},
   "encoding": {
     "y": {"field": "depth", "type": "quantitative", "scale": {"domain": [5.8576, 25.2818], "nice": false, "zero": false}, "axis": null},
     "x": {"field": "x", "type": "quantitative", "scale": {"domain": [0,100], "range": [318,643], "nice": false, "zero": false}, "axis": null}, "text": {"field": "label"}}},
  {"data": {"name": "labels"}, "transform": [{"filter": "datum.p == 'ncie'"}], "mark": {"type": "text", "font": "Liberation Serif, Noto Sans CJK SC", "fontSize": 52, "align": "center", "baseline": "alphabetic", "color": "#231815"},
   "encoding": {
     "y": {"field": "depth", "type": "quantitative", "scale": {"domain": [5.8576, 25.2818], "nice": false, "zero": false}, "axis": null},
     "x": {"field": "x", "type": "quantitative", "scale": {"domain": [0,100], "range": [318,643], "nice": false, "zero": false}, "axis": null}, "text": {"field": "label"}}},

  {"data": {"name": "c13"}, "mark": {"type": "line", "color": "#231815", "strokeWidth": 3.5, "point": {"filled": true, "size": 530, "color": "#231815", "opacity": 1}},
   "encoding": {
     "y": {"field": "depth", "type": "quantitative", "scale": {"domain": [5.8576, 25.2818], "nice": false, "zero": false}, "axis": null},
     "x": {"field": "v", "type": "quantitative", "scale": {"domain": [-34,-19], "range": [776,1294], "nice": false, "zero": false},
      "axis": {"orient": "top", "offset": -260, "title": null, "values": [-34,-29,-24,-19], "format": "d", "tickSize": -24, "labelPadding": 42, "labelBaseline": "alphabetic"}},
     "order": {"field": "depth", "type": "quantitative"}}},
  {"data": {"name": "rules"}, "transform": [{"filter": "datum.p == 'c13'"}], "mark": {"type": "rule", "color": "#231815", "strokeWidth": 4.5},
   "encoding": {
     "y": {"field": "depth", "type": "quantitative", "scale": {"domain": [5.8576, 25.2818], "nice": false, "zero": false}, "axis": null},
     "y2": {"field": "depth2"},
     "x": {"field": "x", "type": "quantitative", "scale": {"domain": [-34,-19], "range": [776,1294], "nice": false, "zero": false}, "axis": null}, "x2": {"field": "x2"}}},
  {"data": {"name": "heads"}, "transform": [{"filter": "datum.p == 'c13' && datum.dir == 'down'"}], "mark": {"type": "point", "shape": "M0,0L-0.7,1.5L0.7,1.5Z", "angle": 180, "filled": true, "size": 900, "color": "#231815", "opacity": 1},
   "encoding": {
     "y": {"field": "depth", "type": "quantitative", "scale": {"domain": [5.8576, 25.2818], "nice": false, "zero": false}, "axis": null},
     "x": {"field": "x", "type": "quantitative", "scale": {"domain": [-34,-19], "range": [776,1294], "nice": false, "zero": false}, "axis": null}}},
  {"data": {"name": "heads"}, "transform": [{"filter": "datum.p == 'c13' && datum.dir == 'ul'"}], "mark": {"type": "point", "shape": "M0,0L-0.7,1.5L0.7,1.5Z", "angle": 335, "filled": true, "size": 900, "color": "#231815", "opacity": 1},
   "encoding": {
     "y": {"field": "depth", "type": "quantitative", "scale": {"domain": [5.8576, 25.2818], "nice": false, "zero": false}, "axis": null},
     "x": {"field": "x", "type": "quantitative", "scale": {"domain": [-34,-19], "range": [776,1294], "nice": false, "zero": false}, "axis": null}}},
  {"data": {"name": "titles"}, "transform": [{"filter": "datum.p == 'c13' && datum.role == 'it'"}], "mark": {"type": "text", "font": "Liberation Serif", "fontStyle": "italic", "fontSize": 54, "align": "left", "baseline": "alphabetic", "color": "#231815"},
   "encoding": {
     "y": {"field": "depth", "type": "quantitative", "scale": {"domain": [5.8576, 25.2818], "nice": false, "zero": false}, "axis": null},
     "x": {"field": "x", "type": "quantitative", "scale": {"domain": [-34,-19], "range": [776,1294], "nice": false, "zero": false}, "axis": null}, "text": {"field": "label"}}},
  {"data": {"name": "titles"}, "transform": [{"filter": "datum.p == 'c13' && datum.role == 'main'"}], "mark": {"type": "text", "font": "Liberation Serif", "fontSize": 54, "align": "left", "baseline": "alphabetic", "color": "#231815"},
   "encoding": {
     "y": {"field": "depth", "type": "quantitative", "scale": {"domain": [5.8576, 25.2818], "nice": false, "zero": false}, "axis": null},
     "x": {"field": "x", "type": "quantitative", "scale": {"domain": [-34,-19], "range": [776,1294], "nice": false, "zero": false}, "axis": null}, "text": {"field": "label"}}},
  {"data": {"name": "titles"}, "transform": [{"filter": "datum.p == 'c13' && datum.role == 'sc'"}], "mark": {"type": "text", "font": "Liberation Serif", "fontSize": 30, "align": "left", "baseline": "alphabetic", "color": "#231815"},
   "encoding": {
     "y": {"field": "depth", "type": "quantitative", "scale": {"domain": [5.8576, 25.2818], "nice": false, "zero": false}, "axis": null},
     "x": {"field": "x", "type": "quantitative", "scale": {"domain": [-34,-19], "range": [776,1294], "nice": false, "zero": false}, "axis": null}, "text": {"field": "label"}}},

  {"data": {"name": "s34"}, "mark": {"type": "line", "color": "#EE7B30", "strokeWidth": 4.5, "point": {"filled": true, "size": 700, "color": "#EE7B30", "opacity": 1}},
   "encoding": {
     "y": {"field": "depth", "type": "quantitative", "scale": {"domain": [5.8576, 25.2818], "nice": false, "zero": false}, "axis": null},
     "x": {"field": "v", "type": "quantitative", "scale": {"domain": [0,16], "range": [1279,1680], "nice": false, "zero": false},
      "axis": {"orient": "top", "offset": -1036, "title": null, "values": [0,4,8,12,16], "format": "d", "tickSize": -23, "labelPadding": 39, "labelBaseline": "alphabetic"}},
     "order": {"field": "depth", "type": "quantitative"}}},
  {"data": {"name": "rules"}, "transform": [{"filter": "datum.p == 's34'"}], "mark": {"type": "rule", "color": "#EE7B30", "strokeWidth": 5},
   "encoding": {
     "y": {"field": "depth", "type": "quantitative", "scale": {"domain": [5.8576, 25.2818], "nice": false, "zero": false}, "axis": null},
     "y2": {"field": "depth2"},
     "x": {"field": "x", "type": "quantitative", "scale": {"domain": [0,16], "range": [1279,1680], "nice": false, "zero": false}, "axis": null}, "x2": {"field": "x2"}}},
  {"data": {"name": "heads"}, "transform": [{"filter": "datum.p == 's34' && datum.dir == 'ul'"}], "mark": {"type": "point", "shape": "M0,0L-0.7,1.5L0.7,1.5Z", "angle": 335, "filled": true, "size": 1100, "color": "#EE7B30", "opacity": 1},
   "encoding": {
     "y": {"field": "depth", "type": "quantitative", "scale": {"domain": [5.8576, 25.2818], "nice": false, "zero": false}, "axis": null},
     "x": {"field": "x", "type": "quantitative", "scale": {"domain": [0,16], "range": [1279,1680], "nice": false, "zero": false}, "axis": null}}},
  {"data": {"name": "heads"}, "transform": [{"filter": "datum.p == 's34' && datum.dir == 'ur'"}], "mark": {"type": "point", "shape": "M0,0L-0.7,1.5L0.7,1.5Z", "angle": 31, "filled": true, "size": 1100, "color": "#EE7B30", "opacity": 1},
   "encoding": {
     "y": {"field": "depth", "type": "quantitative", "scale": {"domain": [5.8576, 25.2818], "nice": false, "zero": false}, "axis": null},
     "x": {"field": "x", "type": "quantitative", "scale": {"domain": [0,16], "range": [1279,1680], "nice": false, "zero": false}, "axis": null}}},
  {"data": {"name": "titles"}, "transform": [{"filter": "datum.p == 's34' && datum.role == 'it'"}], "mark": {"type": "text", "font": "Liberation Serif", "fontStyle": "italic", "fontSize": 54, "align": "left", "baseline": "alphabetic", "color": "#231815"},
   "encoding": {
     "y": {"field": "depth", "type": "quantitative", "scale": {"domain": [5.8576, 25.2818], "nice": false, "zero": false}, "axis": null},
     "x": {"field": "x", "type": "quantitative", "scale": {"domain": [0,16], "range": [1279,1680], "nice": false, "zero": false}, "axis": null}, "text": {"field": "label"}}},
  {"data": {"name": "titles"}, "transform": [{"filter": "datum.p == 's34' && datum.role == 'main'"}], "mark": {"type": "text", "font": "Liberation Serif", "fontSize": 54, "align": "left", "baseline": "alphabetic", "color": "#231815"},
   "encoding": {
     "y": {"field": "depth", "type": "quantitative", "scale": {"domain": [5.8576, 25.2818], "nice": false, "zero": false}, "axis": null},
     "x": {"field": "x", "type": "quantitative", "scale": {"domain": [0,16], "range": [1279,1680], "nice": false, "zero": false}, "axis": null}, "text": {"field": "label"}}},
  {"data": {"name": "titles"}, "transform": [{"filter": "datum.p == 's34' && datum.role == 'sc'"}], "mark": {"type": "text", "font": "Liberation Serif", "fontSize": 30, "align": "left", "baseline": "alphabetic", "color": "#231815"},
   "encoding": {
     "y": {"field": "depth", "type": "quantitative", "scale": {"domain": [5.8576, 25.2818], "nice": false, "zero": false}, "axis": null},
     "x": {"field": "x", "type": "quantitative", "scale": {"domain": [0,16], "range": [1279,1680], "nice": false, "zero": false}, "axis": null}, "text": {"field": "label"}}},

  {"data": {"name": "toc"}, "mark": {"type": "line", "color": "#231815", "strokeWidth": 3.5, "point": {"filled": true, "size": 500, "color": "#231815", "opacity": 1}},
   "encoding": {
     "y": {"field": "depth", "type": "quantitative", "scale": {"domain": [5.8576, 25.2818], "nice": false, "zero": false}, "axis": null},
     "x": {"field": "v", "type": "quantitative", "scale": {"type": "log", "domain": [0.02,20], "range": [1655.6,2083.5], "nice": false},
      "axis": {"orient": "top", "offset": -260, "title": null, "values": [0.02,0.2,2,20], "labelExpr": "datum.value < 0.1 ? '0.02' : datum.value < 1 ? '0.20' : datum.value < 10 ? '2' : '20'", "tickSize": -24, "labelPadding": 42, "labelBaseline": "alphabetic"}},
     "order": {"field": "depth", "type": "quantitative"}}},
  {"data": {"name": "titles"}, "transform": [{"filter": "datum.p == 'toc'"}], "mark": {"type": "text", "font": "Liberation Serif", "fontSize": 54, "align": "center", "baseline": "alphabetic", "color": "#231815"},
   "encoding": {
     "y": {"field": "depth", "type": "quantitative", "scale": {"domain": [5.8576, 25.2818], "nice": false, "zero": false}, "axis": null},
     "x": {"field": "x", "type": "quantitative", "scale": {"type": "log", "domain": [0.02,20], "range": [1655.6,2083.5], "nice": false}, "axis": null}, "text": {"field": "label"}}},

  {"data": {"name": "ts"}, "mark": {"type": "line", "color": "#4596B5", "strokeWidth": 4, "point": {"filled": true, "size": 660, "color": "#4596B5", "opacity": 1}},
   "encoding": {
     "y": {"field": "depth", "type": "quantitative", "scale": {"domain": [5.8576, 25.2818], "nice": false, "zero": false}, "axis": null},
     "x": {"field": "v", "type": "quantitative", "scale": {"domain": [0,0.5], "range": [2225.4,2570.2], "nice": false, "zero": false},
      "axis": {"orient": "top", "offset": -258.6, "title": null, "values": [0,0.25,0.5], "labelExpr": "datum.value == 0 ? '0' : format(datum.value, '.2f')", "tickSize": -26, "labelPadding": 44, "labelBaseline": "alphabetic"}},
     "order": {"field": "depth", "type": "quantitative"}}},
  {"data": {"name": "rules"}, "transform": [{"filter": "datum.p == 'ts'"}], "mark": {"type": "rule", "color": "#4A98B5", "strokeWidth": 3.5},
   "encoding": {
     "y": {"field": "depth", "type": "quantitative", "scale": {"domain": [5.8576, 25.2818], "nice": false, "zero": false}, "axis": null},
     "y2": {"field": "depth2"},
     "x": {"field": "x", "type": "quantitative", "scale": {"domain": [0,0.5], "range": [2225.4,2570.2], "nice": false, "zero": false}, "axis": null}, "x2": {"field": "x2"}}},
  {"data": {"name": "heads"}, "transform": [{"filter": "datum.p == 'ts'"}], "mark": {"type": "point", "shape": "M0,0L-0.7,1.5L0.7,1.5Z", "angle": 90, "filled": true, "size": 700, "color": "#4A98B5", "opacity": 1},
   "encoding": {
     "y": {"field": "depth", "type": "quantitative", "scale": {"domain": [5.8576, 25.2818], "nice": false, "zero": false}, "axis": null},
     "x": {"field": "x", "type": "quantitative", "scale": {"domain": [0,0.5], "range": [2225.4,2570.2], "nice": false, "zero": false}, "axis": null}}},
  {"data": {"name": "ann"}, "transform": [{"filter": "datum.p == 'ts'"}], "mark": {"type": "text", "font": "Liberation Serif", "fontSize": 52, "align": "center", "baseline": "alphabetic", "color": "#4A98B5"},
   "encoding": {
     "y": {"field": "depth", "type": "quantitative", "scale": {"domain": [5.8576, 25.2818], "nice": false, "zero": false}, "axis": null},
     "x": {"field": "x", "type": "quantitative", "scale": {"domain": [0,0.5], "range": [2225.4,2570.2], "nice": false, "zero": false}, "axis": null}, "text": {"field": "label"}}},
  {"data": {"name": "titles"}, "transform": [{"filter": "datum.p == 'ts'"}], "mark": {"type": "text", "font": "Liberation Serif", "fontSize": 54, "align": "center", "baseline": "alphabetic", "color": "#231815"},
   "encoding": {
     "y": {"field": "depth", "type": "quantitative", "scale": {"domain": [5.8576, 25.2818], "nice": false, "zero": false}, "axis": null},
     "x": {"field": "x", "type": "quantitative", "scale": {"domain": [0,0.5], "range": [2225.4,2570.2], "nice": false, "zero": false}, "axis": null}, "text": {"field": "label"}}},

  {"data": {"name": "layb"}, "mark": {"type": "line", "color": "#3B2C5E", "strokeWidth": 4, "point": {"filled": true, "size": 680, "color": "#3B2C5E", "opacity": 1}},
   "encoding": {
     "y": {"field": "depth", "type": "quantitative", "scale": {"domain": [5.8576, 25.2818], "nice": false, "zero": false}, "axis": null},
     "x": {"field": "v", "type": "quantitative", "scale": {"domain": [0,5], "range": [2621.7,3030], "nice": false, "zero": false},
      "axis": {"orient": "bottom", "offset": -145.5, "title": null, "values": [0,1,2,3,4,5], "format": "d", "tickSize": -22, "labelPadding": 71, "labelBaseline": "alphabetic"}},
     "order": {"field": "depth", "type": "quantitative"}}},
  {"data": {"name": "titles"}, "transform": [{"filter": "datum.p == 'layb' && datum.role == 'main'"}], "mark": {"type": "text", "font": "Liberation Serif", "fontSize": 54, "align": "left", "baseline": "alphabetic", "color": "#231815"},
   "encoding": {
     "y": {"field": "depth", "type": "quantitative", "scale": {"domain": [5.8576, 25.2818], "nice": false, "zero": false}, "axis": null},
     "x": {"field": "x", "type": "quantitative", "scale": {"domain": [0,5], "range": [2621.7,3030], "nice": false, "zero": false}, "axis": null}, "text": {"field": "label"}}},
  {"data": {"name": "titles"}, "transform": [{"filter": "datum.p == 'layb' && datum.role == 'sc'"}], "mark": {"type": "text", "font": "Liberation Serif", "fontSize": 30, "align": "left", "baseline": "alphabetic", "color": "#231815"},
   "encoding": {
     "y": {"field": "depth", "type": "quantitative", "scale": {"domain": [5.8576, 25.2818], "nice": false, "zero": false}, "axis": null},
     "x": {"field": "x", "type": "quantitative", "scale": {"domain": [0,5], "range": [2621.7,3030], "nice": false, "zero": false}, "axis": null}, "text": {"field": "label"}}},

  {"data": {"name": "rules"}, "transform": [{"filter": "datum.p == 'cpdash'"}], "mark": {"type": "rule", "color": "#231815", "strokeWidth": 4, "strokeDash": [18, 11]},
   "encoding": {
     "y": {"field": "depth", "type": "quantitative", "scale": {"domain": [5.8576, 25.2818], "nice": false, "zero": false}, "axis": null},
     "y2": {"field": "depth2"},
     "x": {"field": "x", "type": "quantitative", "scale": {"domain": [0,500], "range": [3037.9,3442.4], "nice": false, "zero": false}, "axis": null}, "x2": {"field": "x2"}}},
  {"data": {"name": "cp"}, "mark": {"type": "line", "color": "#3CB18A", "strokeWidth": 4, "point": {"filled": true, "size": 640, "color": "#5E9C85", "stroke": "#3DB38B", "strokeWidth": 3, "opacity": 1}},
   "encoding": {
     "y": {"field": "depth", "type": "quantitative", "scale": {"domain": [5.8576, 25.2818], "nice": false, "zero": false}, "axis": null},
     "x": {"field": "v", "type": "quantitative", "scale": {"domain": [0,500], "range": [3037.9,3442.4], "nice": false, "zero": false},
      "axis": {"orient": "top", "offset": -260, "title": null, "values": [0,100,200,300,400,500], "labelExpr": "(datum.value == 100 || datum.value == 300 || datum.value == 500) ? format(datum.value, 'd') : ''", "tickSize": -24, "labelPadding": 42, "labelBaseline": "alphabetic"}},
     "order": {"field": "depth", "type": "quantitative"}}},
  {"data": {"name": "rules"}, "transform": [{"filter": "datum.p == 'cp'"}], "mark": {"type": "rule", "color": "#5FA08A", "strokeWidth": 3.5},
   "encoding": {
     "y": {"field": "depth", "type": "quantitative", "scale": {"domain": [5.8576, 25.2818], "nice": false, "zero": false}, "axis": null},
     "y2": {"field": "depth2"},
     "x": {"field": "x", "type": "quantitative", "scale": {"domain": [0,500], "range": [3037.9,3442.4], "nice": false, "zero": false}, "axis": null}, "x2": {"field": "x2"}}},
  {"data": {"name": "heads"}, "transform": [{"filter": "datum.p == 'cp'"}], "mark": {"type": "point", "shape": "M0,0L-0.7,1.5L0.7,1.5Z", "angle": 90, "filled": true, "size": 700, "color": "#5FA08A", "opacity": 1},
   "encoding": {
     "y": {"field": "depth", "type": "quantitative", "scale": {"domain": [5.8576, 25.2818], "nice": false, "zero": false}, "axis": null},
     "x": {"field": "x", "type": "quantitative", "scale": {"domain": [0,500], "range": [3037.9,3442.4], "nice": false, "zero": false}, "axis": null}}},
  {"data": {"name": "ann"}, "transform": [{"filter": "datum.p == 'cp'"}], "mark": {"type": "text", "font": "Liberation Serif", "fontSize": 52, "align": "center", "baseline": "alphabetic", "color": "#5FA08A"},
   "encoding": {
     "y": {"field": "depth", "type": "quantitative", "scale": {"domain": [5.8576, 25.2818], "nice": false, "zero": false}, "axis": null},
     "x": {"field": "x", "type": "quantitative", "scale": {"domain": [0,500], "range": [3037.9,3442.4], "nice": false, "zero": false}, "axis": null}, "text": {"field": "label"}}},
  {"data": {"name": "ann"}, "transform": [{"filter": "datum.p == 'cpcjk'"}], "mark": {"type": "text", "font": "Noto Sans CJK SC", "fontSize": 48, "align": "center", "baseline": "middle", "color": "#231815"},
   "encoding": {
     "y": {"field": "depth", "type": "quantitative", "scale": {"domain": [5.8576, 25.2818], "nice": false, "zero": false}, "axis": null},
     "x": {"field": "x", "type": "quantitative", "scale": {"domain": [0,500], "range": [3037.9,3442.4], "nice": false, "zero": false}, "axis": null}, "text": {"field": "label"}}},
  {"data": {"name": "titles"}, "transform": [{"filter": "datum.p == 'cp' && datum.role == 'main'"}], "mark": {"type": "text", "font": "Liberation Serif", "fontSize": 54, "align": "left", "baseline": "alphabetic", "color": "#231815"},
   "encoding": {
     "y": {"field": "depth", "type": "quantitative", "scale": {"domain": [5.8576, 25.2818], "nice": false, "zero": false}, "axis": null},
     "x": {"field": "x", "type": "quantitative", "scale": {"domain": [0,500], "range": [3037.9,3442.4], "nice": false, "zero": false}, "axis": null}, "text": {"field": "label"}}},
  {"data": {"name": "titles"}, "transform": [{"filter": "datum.p == 'cp' && datum.role == 'sc'"}], "mark": {"type": "text", "font": "Liberation Serif", "fontSize": 30, "align": "left", "baseline": "alphabetic", "color": "#231815"},
   "encoding": {
     "y": {"field": "depth", "type": "quantitative", "scale": {"domain": [5.8576, 25.2818], "nice": false, "zero": false}, "axis": null},
     "x": {"field": "x", "type": "quantitative", "scale": {"domain": [0,500], "range": [3037.9,3442.4], "nice": false, "zero": false}, "axis": null}, "text": {"field": "label"}}}
]
}
